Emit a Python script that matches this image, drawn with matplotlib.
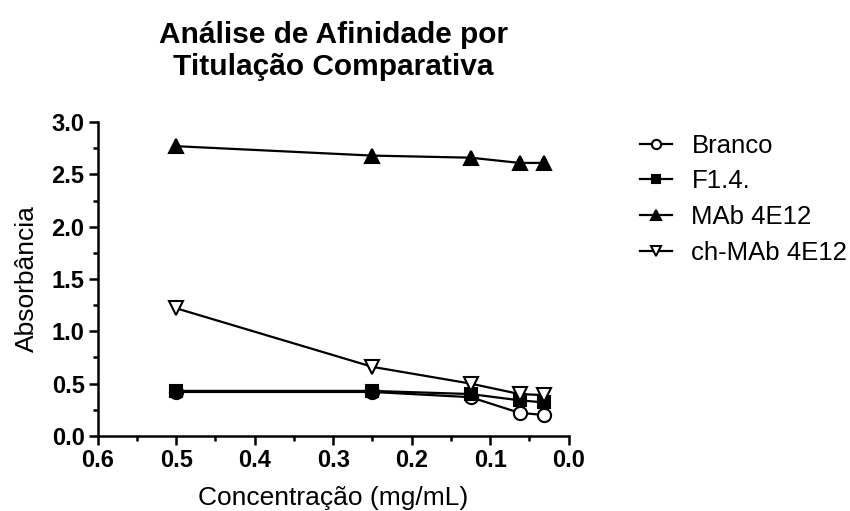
import matplotlib
matplotlib.use("Agg")
import matplotlib.pyplot as plt
from matplotlib.ticker import MultipleLocator

plt.rcParams['font.family'] = ['Liberation Sans', 'DejaVu Sans']

concentracao = [0.5, 0.25, 0.125, 0.0625, 0.03125]
branco = [0.42, 0.42, 0.37, 0.22, 0.20]
f14 = [0.43, 0.43, 0.40, 0.34, 0.32]
mab = [2.77, 2.68, 2.66, 2.61, 2.61]
ch_mab = [1.22, 0.66, 0.50, 0.40, 0.39]

series = [
    ("Branco", branco, dict(marker='o', mfc='white', markersize=9.5)),
    ("F1.4.", f14, dict(marker='s', mfc='black', markersize=8.5)),
    ("MAb 4E12", mab, dict(marker='^', mfc='black', markersize=10)),
    ("ch-MAb 4E12", ch_mab, dict(marker='v', mfc='white', markersize=10)),
]


def main():
    fig = plt.figure(figsize=(8.5, 5.11), dpi=100)
    ax = fig.add_axes([0.115, 0.147, 0.554, 0.614])

    for label, vals, style in series:
        ax.plot(concentracao, vals, color='black', linewidth=1.6,
                mec='black', mew=1.5, label=label, clip_on=False, **style)

    ax.set_xlim(0.6, 0.0)
    ax.set_ylim(0.0, 3.0)
    ax.xaxis.set_major_locator(MultipleLocator(0.1))
    ax.xaxis.set_minor_locator(MultipleLocator(0.05))
    ax.yaxis.set_major_locator(MultipleLocator(0.5))
    ax.yaxis.set_minor_locator(MultipleLocator(0.25))
    ax.xaxis.set_major_formatter(lambda v, p: f"{v:.1f}")
    ax.yaxis.set_major_formatter(lambda v, p: f"{v:.1f}")

    for side in ('top', 'right'):
        ax.spines[side].set_visible(False)
    for side in ('left', 'bottom'):
        ax.spines[side].set_linewidth(1.8)
    ax.tick_params(which='major', length=6.5, width=1.8, labelsize=17, pad=3)
    ax.tick_params(which='minor', length=3.6, width=1.8)
    for t in ax.get_xticklabels() + ax.get_yticklabels():
        t.set_fontweight('bold')

    ax.set_xlabel("Concentração (mg/mL)", fontsize=19, labelpad=10)
    ax.set_ylabel("Absorbância", fontsize=19, labelpad=9)
    ax.set_title("Análise de Afinidade por\nTitulação Comparativa",
                 fontsize=21.5, fontweight='bold', pad=34, linespacing=1.2)

    ax.legend(loc='upper left', bbox_to_anchor=(640 / 850, 0.738),
              bbox_transform=fig.transFigure, frameon=False,
              fontsize=18.5, handlelength=1.25, labelspacing=0.45,
              handletextpad=0.75, borderpad=0, borderaxespad=0,
              markerscale=0.7)

    fig.savefig("out.png", dpi=100)


if __name__ == "__main__":
    main()
